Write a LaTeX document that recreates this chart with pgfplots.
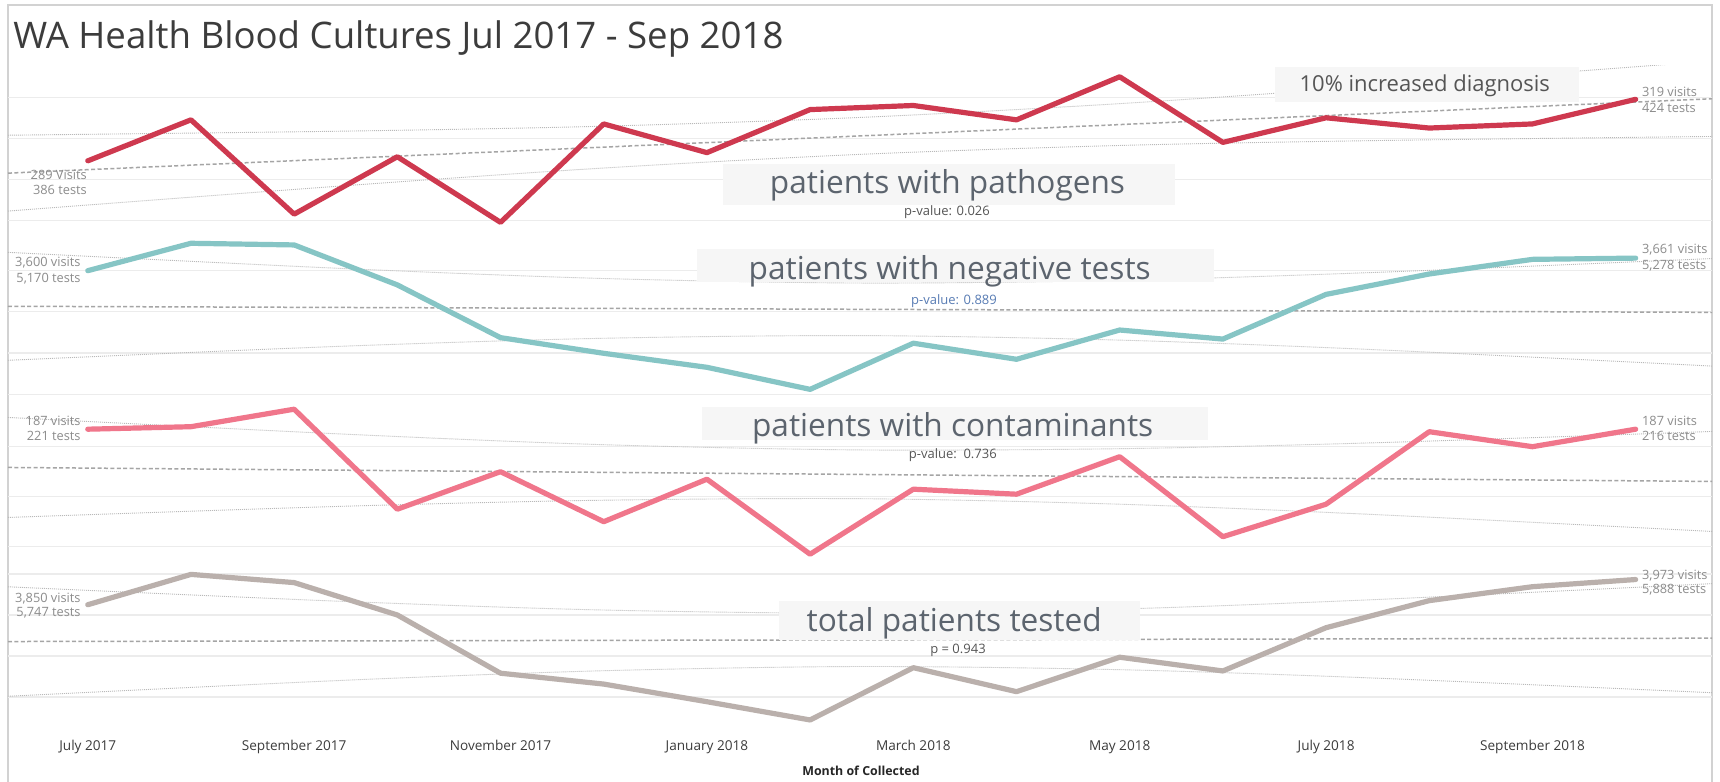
\documentclass[border=0pt]{standalone}
\usepackage{fontspec}
\setmainfont{Open Sans}
\usepackage{pgfplots}
\pgfplotsset{compat=1.18}
\definecolor{cpath}{RGB}{206,57,79}
\definecolor{cneg}{RGB}{134,197,197}
\definecolor{ccont}{RGB}{240,118,139}
\definecolor{ctot}{RGB}{186,176,172}
\definecolor{gridc}{RGB}{236,236,236}
\definecolor{trendc}{RGB}{165,165,165}
\definecolor{bandc}{RGB}{185,185,185}
\definecolor{boxc}{RGB}{246,246,246}
\definecolor{headc}{RGB}{92,100,110}
\definecolor{labc}{RGB}{140,140,140}
\definecolor{pvc}{RGB}{85,85,85}
\definecolor{pblue}{RGB}{88,124,180}
\definecolor{framec}{RGB}{210,210,210}
\definecolor{titlec}{RGB}{60,60,60}
\definecolor{tickc}{RGB}{60,60,60}
\pgfplotsset{
  pane/.style={
    scale only axis, width=852pt, height=83.375pt, anchor=south west,
    xmin=-0.773, xmax=15.74,
    axis line style={draw=none},
    major tick length=0pt,
    xtick=\empty,
    yticklabels={},
    ymajorgrids,
    major grid style={draw=gridc, line width=0.6pt},
    clip mode=individual,
  },
  dline/.style={line width=2.6pt, line join=round, line cap=round, no marks},
  trendl/.style={draw=trendc, line width=0.75pt, dash pattern=on 2pt off 1.2pt, no marks},
  bandl/.style={draw=bandc, line width=0.45pt, dash pattern=on 0.5pt off 0.5pt, smooth, no marks},
}
\tikzset{
  hbox/.style={fill=boxc, draw=none},
  head/.style={anchor=base, inner sep=0, text=headc, font=\fontsize{15.8}{18}\selectfont},
  pval/.style={anchor=center, inner sep=0, text=pvc, font=\fontsize{6.5}{8}\selectfont},
  lab/.style={inner sep=0, text=labc, font=\fontsize{6.4}{7.5}\selectfont},
}
\begin{document}
\begin{tikzpicture}
\path[use as bounding box] (0,0) rectangle (860pt,391pt);
\fill[white] (0,0) rectangle (860pt,391pt);
\draw[framec, line width=1pt] (4pt,0) -- (4pt,388.5pt) -- (856pt,388.5pt) -- (856pt,0);

% Pane 1: patients with pathogens
\begin{axis}[pane, at={(4pt,274.625pt)}, ymin=253.93, ymax=335.27, ytick={260,280,300,320}]
\addplot[bandl] coordinates {(-0.773,301.5) (2.5,303.5) (5,305.9) (7.5,310.2) (10,316.9) (12.5,325.5) (15.74,337.7)};
\addplot[bandl] coordinates {(-0.773,264.5) (2.5,276.9) (5,285.5) (7.5,292.2) (10,296.5) (12.5,298.9) (15.74,300.9)};
\addplot[trendl] coordinates {(-0.773,283.0) (15.74,319.3)};
\addplot[dline, cpath] coordinates {(0,289) (1,309) (2,263) (3,291) (4,259) (5,307) (6,293) (7,314) (8,316) (9,309) (10,330) (11,298) (12,310) (13,305) (14,307) (15,319)};
\end{axis}

% Pane 2: patients with negative tests
\begin{axis}[pane, at={(4pt,191.25pt)}, ymin=2974.8, ymax=3784.2, ytick={3000,3200,3400,3600}]
\addplot[bandl] coordinates {(-0.773,3689) (2.5,3610) (5,3562) (7.5,3540) (10,3553) (12.5,3592) (15.74,3659)};
\addplot[bandl] coordinates {(-0.773,3165) (2.5,3234) (5,3272) (7.5,3285) (10,3263) (12.5,3216) (15.74,3137)};
\addplot[trendl] coordinates {(-0.773,3427.3) (15.74,3397.9)};
\addplot[dline, cneg] coordinates {(0,3600) (1,3733) (2,3725) (3,3531) (4,3275) (5,3199) (6,3131) (7,3024) (8,3248) (9,3170) (10,3312) (11,3268) (12,3485) (13,3584) (14,3655) (15,3661)};
\end{axis}

% Pane 3: patients with contaminants
\begin{axis}[pane, at={(4pt,107.875pt)}, ymin=132.18, ymax=198.88, ytick={140,160,180}]
\addplot[bandl] coordinates {(-0.773,191.7) (2.5,185.0) (5,180.8) (7.5,178.7) (10,179.2) (12.5,181.6) (15.74,186.1)};
\addplot[bandl] coordinates {(-0.773,151.7) (2.5,156.2) (5,158.6) (7.5,159.2) (10,157.0) (12.5,152.8) (15.74,146.1)};
\addplot[trendl] coordinates {(-0.773,171.7) (15.74,166.1)};
\addplot[dline, ccont] coordinates {(0,187) (1,188) (2,195) (3,155) (4,170) (5,150) (6,167) (7,137) (8,163) (9,161) (10,176) (11,144) (12,157) (13,186) (14,180) (15,187)};
\end{axis}

% Pane 4: total patients tested
\begin{axis}[pane, at={(4pt,24.5pt)}, ymin=3224.4, ymax=4037.8, ytick={3400,3600,3800,4000},
  xtick={0,2,4,6,8,10,12,14},
  xticklabels={July 2017,September 2017,November 2017,January 2018,March 2018,May 2018,July 2018,September 2018},
  xticklabel style={font=\fontsize{6.8}{8}\selectfont, text=tickc, anchor=base, yshift=-8.9pt}]
\addplot[bandl] coordinates {(-0.773,3937.5) (2.5,3865.8) (5,3824.2) (7.5,3808.7) (10,3829.2) (12.5,3875.7) (15.74,3952.9)};
\addplot[bandl] coordinates {(-0.773,3403.5) (2.5,3481.8) (5,3528.2) (7.5,3548.7) (10,3533.2) (12.5,3491.7) (15.74,3420.9)};
\addplot[trendl] coordinates {(-0.773,3670.5) (15.74,3686.9)};
\addplot[dline, ctot] coordinates {(0,3850) (1,3998) (2,3958) (3,3800) (4,3516) (5,3463) (6,3377) (7,3288) (8,3543) (9,3426) (10,3594) (11,3527) (12,3738) (13,3870) (14,3938) (15,3973)};
\end{axis}

% title and axis label
\node[anchor=base west, inner sep=0, text=titlec, font=\fontsize{18.3}{21}\selectfont] at (6.5pt,366.85pt) {WA Health Blood Cultures Jul 2017 - Sep 2018};
\node[anchor=center, inner sep=0, text=black!85, font=\fontsize{6.2}{7}\selectfont\bfseries] at (430.5pt,5.65pt) {Month of Collected};

% heading boxes
\fill[hbox] (637.5pt,340.15pt) rectangle (789.3pt,357.65pt);
\node[anchor=base, inner sep=0, text=pvc, font=\fontsize{11}{13}\selectfont] at (712.4pt,345.15pt) {10\% increased diagnosis};
\fill[hbox] (361.5pt,288.5pt) rectangle (587.5pt,308.75pt);
\node[head] at (473.75pt,294.35pt) {patients with pathogens};
\node[pval] at (473.5pt,285.15pt) {p-value: 0.026};
\fill[hbox] (348.3pt,250pt) rectangle (606.9pt,266.5pt);
\node[head] at (474.85pt,251.35pt) {patients with negative tests};
\node[pval, text=pblue] at (477pt,240.65pt) {p-value: 0.889};
\fill[hbox] (351pt,171pt) rectangle (604pt,187.5pt);
\node[head] at (476.35pt,172.65pt) {patients with contaminants};
\node[pval] at (476.4pt,163.5pt) {p-value:\ \ 0.736};
\fill[hbox] (389.5pt,71pt) rectangle (569.85pt,90.25pt);
\node[head] at (477.1pt,75.15pt) {total patients tested};
\node[pval] at (479pt,65.65pt) {p = 0.943};

% end labels
\node[lab, anchor=east] at (43.6pt,303.5pt) {289 Visits};
\node[lab, anchor=east] at (43.6pt,296pt) {386 tests};
\node[lab, anchor=east] at (40.5pt,259.65pt) {3,600 visits};
\node[lab, anchor=east] at (40.5pt,251.85pt) {5,170 tests};
\node[lab, anchor=east] at (40.5pt,180.65pt) {187 visits};
\node[lab, anchor=east] at (40.5pt,173.15pt) {221 tests};
\node[lab, anchor=east] at (40.5pt,91.65pt) {3,850 visits};
\node[lab, anchor=east] at (40.5pt,84.65pt) {5,747 tests};
\node[lab, anchor=west] at (820.85pt,345.15pt) {319 visits};
\node[lab, anchor=west] at (820.85pt,337.15pt) {424 tests};
\node[lab, anchor=west] at (820.85pt,266pt) {3,661 visits};
\node[lab, anchor=west] at (820.85pt,258pt) {5,278 tests};
\node[lab, anchor=west] at (820.85pt,180.65pt) {187 visits};
\node[lab, anchor=west] at (820.85pt,173.15pt) {216 tests};
\node[lab, anchor=west] at (820.85pt,103.15pt) {3,973 visits};
\node[lab, anchor=west] at (820.85pt,96pt) {5,888 tests};
\end{tikzpicture}
\end{document}
